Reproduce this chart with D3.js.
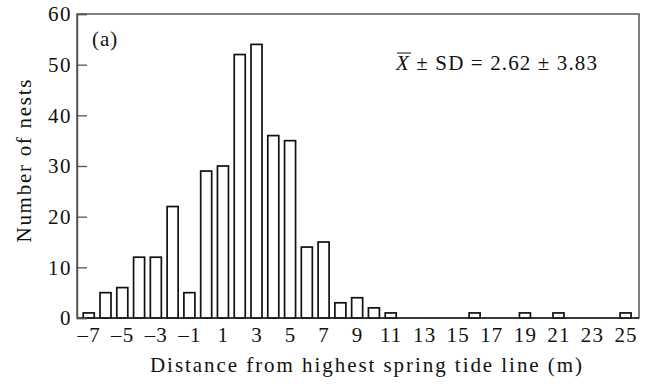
<!DOCTYPE html>
<html>
<head>
<meta charset="utf-8">
<script src="https://cdn.jsdelivr.net/npm/d3@7"></script>
<style>
  html, body { margin: 0; padding: 0; background: #fff; overflow: hidden; }
  svg { display: block; }
  text { font-family: "Liberation Serif", "DejaVu Serif", serif; fill: #111; }
</style>
</head>
<body>
<div id="chart"></div>
<script>
// distance from highest spring tide line (m) and nest counts
const distances = d3.range(-7, 26)
const nests = [1, 5, 6, 12, 12, 22, 5, 29, 30, 52, 54, 36, 35, 14, 15, 3, 4, 2, 1,
               0, 0, 0, 0, 1, 0, 0, 1, 0, 1, 0, 0, 0, 1]
const xTicks = d3.range(-7, 26, 2)
const yTicks = [0, 10, 20, 30, 40, 50, 60]

let margin = {top: 14, right: 9, bottom: 66, left: 77}
let width = 648
let height = 384
let innerWidth = width - margin.left - margin.right
let innerHeight = height - margin.top - margin.bottom
let fs = 21

let svg = d3.select('#chart')
            .append('svg')
            .attr('width', width)
            .attr('height', height)

let g = svg.append('g').attr('transform', `translate(${margin.left},${margin.top})`)

let xScale = d3.scaleLinear()
              .domain([-7.7, 25.8])
              .range([0, innerWidth])

let yScale = d3.scaleLinear()
              .domain([0, 60])
              .range([innerHeight, 0])

let barW = 11

// frame
g.append('rect')
  .attr('x', 0).attr('y', 0)
  .attr('width', innerWidth).attr('height', innerHeight)
  .attr('fill', 'none')
  .attr('stroke', '#555')
  .attr('stroke-width', 1.5)

// bars
g.selectAll('rect.bar')
  .data(distances)
  .enter().append('rect')
  .attr('class', 'bar')
  .attr('x', d => xScale(d) - barW / 2)
  .attr('y', (d, i) => yScale(nests[i]))
  .attr('width', barW)
  .attr('height', (d, i) => innerHeight - yScale(nests[i]))
  .attr('fill', '#fff')
  .attr('stroke', '#111')
  .attr('stroke-width', 1.7)

// baseline
g.append('line')
  .attr('x1', 0).attr('x2', innerWidth)
  .attr('y1', innerHeight).attr('y2', innerHeight)
  .attr('stroke', '#222').attr('stroke-width', 1.6)

let y = d3.axisLeft(yScale)
          .tickValues(yTicks)
          .tickSize(-10)
          .tickPadding(5)

let yAxis = g.append('g').call(y)
yAxis.select('.domain').attr('stroke', '#555').attr('stroke-width', 1.5)
yAxis.selectAll('.tick line').attr('stroke', '#555').attr('stroke-width', 1.3)
yAxis.selectAll('.tick text')
  .attr('font-size', fs)
  .attr('letter-spacing', 1.5)
  .attr('font-family', '"Liberation Serif", serif')
  .attr('fill', '#111')

let x = d3.axisBottom(xScale)
          .tickValues(xTicks)
          .tickSize(0)
          .tickPadding(9)
          .tickFormat(d => d < 0 ? '\u2013' + Math.abs(d) : d)

let xAxis = g.append('g')
            .attr('transform', `translate(0,${innerHeight})`)
            .call(x)
xAxis.select('.domain').remove()
xAxis.selectAll('.tick text')
  .attr('font-size', fs)
  .attr('letter-spacing', 1.2)
  .attr('font-family', '"Liberation Serif", serif')
  .attr('fill', '#111')

g.append('text')
  .attr('text-anchor', 'middle')
  .attr('x', 366 - margin.left)
  .attr('y', innerHeight + 54)
  .attr('font-size', fs)
  .attr('textLength', 432)
  .attr('lengthAdjust', 'spacing')
  .text('Distance from highest spring tide line (m)')

g.append('text')
  .attr('text-anchor', 'middle')
  .attr('transform', `translate(${31 - margin.left},${161 - margin.top}) rotate(-90)`)
  .attr('font-size', fs)
  .attr('textLength', 163)
  .attr('lengthAdjust', 'spacing')
  .text('Number of nests')

g.append('text')
  .attr('x', 15)
  .attr('y', 32)
  .attr('font-size', fs)
  .attr('letter-spacing', 1)
  .text('(a)')

// mean ± SD annotation
let stat = g.append('text')
  .attr('x', 396 - margin.left)
  .attr('y', 56)
  .attr('font-size', fs)
  .attr('textLength', 201)
  .attr('lengthAdjust', 'spacing')
let xbar = stat.append('tspan').attr('font-style', 'italic').text('X')
stat.append('tspan').text(' \u00b1 SD = 2.62 \u00b1 3.83')

let bb = xbar.node().getBBox()
g.append('line')
  .attr('x1', bb.x + 2).attr('x2', bb.x + bb.width + 1)
  .attr('y1', bb.y + 2).attr('y2', bb.y + 2)
  .attr('stroke', '#111').attr('stroke-width', 1)
</script>
</body>
</html>
